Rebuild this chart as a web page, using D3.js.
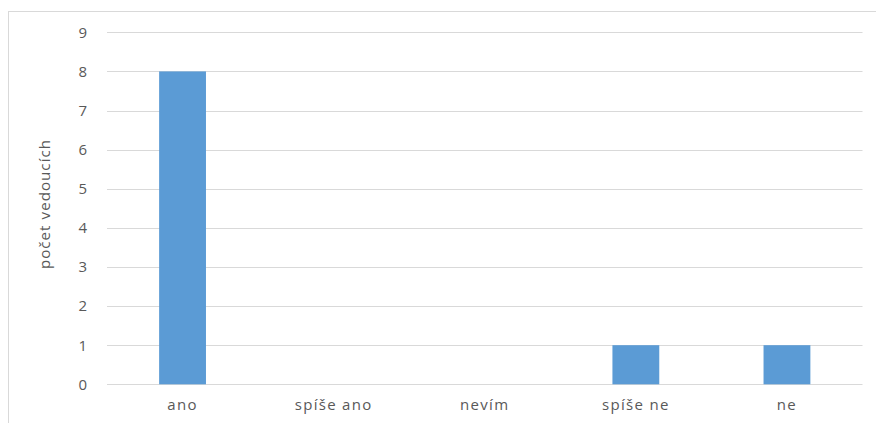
<!DOCTYPE html>
<html><head><meta charset="utf-8">
<script src="https://cdn.jsdelivr.net/npm/d3@7"></script>
<style>body{margin:0;background:#fff}svg{display:block}text{font-family:"Open Sans","Liberation Sans",sans-serif}</style>
</head><body>
<svg id="c" width="876" height="423"></svg>
<script>
const categories = ["ano", "spíše ano", "nevím", "spíše ne", "ne"];
const values = [8, 0, 0, 1, 1];
const yTicks = [0, 1, 2, 3, 4, 5, 6, 7, 8, 9];
const yTitle = "počet vedoucích";

const svg = d3.select("#c");
svg.append("rect").attr("x", 8.5).attr("y", 11.5).attr("width", 880).attr("height", 430)
  .attr("fill", "#fff").attr("stroke", "#d9d9d9");

const x = d3.scaleBand().domain(categories).range([107, 862.5]).paddingInner(0.69).paddingOuter(0.345);
const y = d3.scaleLinear().domain([0, 9]).range([384.3, 32.3]);

const grid = svg.append("g");
grid.selectAll("line").data(yTicks).join("line")
  .attr("x1", 107).attr("x2", 862.5)
  .attr("y1", d => Math.round(y(d)) + 0.5).attr("y2", d => Math.round(y(d)) + 0.5)
  .attr("stroke", "#d9d9d9").attr("stroke-width", 1);

svg.append("g").selectAll("rect").data(values).join("rect")
  .attr("x", (d, i) => x(categories[i]))
  .attr("width", x.bandwidth())
  .attr("y", d => y(d))
  .attr("height", d => y(0) - y(d))
  .attr("fill", "#5b9bd5");

const yAxis = d3.axisLeft(y).tickValues(yTicks).tickSize(0).tickPadding(0).tickFormat(d3.format("d"));
const gy = svg.append("g").attr("transform", "translate(87,0)").call(yAxis);
gy.select(".domain").remove();
gy.selectAll("text").attr("fill", "#595959").style("font-size", "15px")
  .style("font-family", '"Open Sans","Liberation Sans",sans-serif');

const xAxis = d3.axisBottom(x).tickSize(0).tickPadding(0);
const gx = svg.append("g").attr("transform", "translate(0,399)").call(xAxis);
gx.select(".domain").remove();
gx.selectAll("text").attr("fill", "#595959").style("font-size", "15px")
  .style("letter-spacing", "1.3px")
  .style("font-family", '"Open Sans","Liberation Sans",sans-serif');

svg.append("text").attr("transform", "translate(50,204) rotate(-90)")
  .attr("text-anchor", "middle").attr("fill", "#595959").style("font-size", "15px")
  .style("letter-spacing", "1.1px")
  .text(yTitle);
</script>
</body></html>
